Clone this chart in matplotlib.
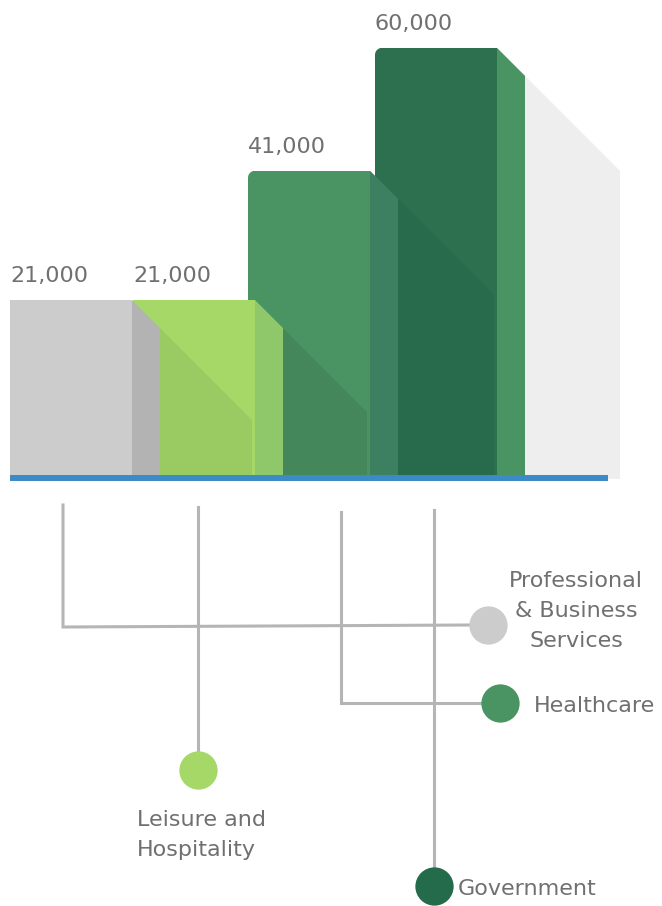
import matplotlib
matplotlib.use('Agg')
import matplotlib.pyplot as plt
from matplotlib.patches import Polygon
import numpy as np

# ============================================================
# DATA
# ============================================================
categories = ['Professional & Business Services', 'Leisure and Hospitality',
              'Healthcare', 'Government']
values = [21000, 21000, 41000, 60000]
legend_lines = [['Professional', '& Business', 'Services'],
                ['Leisure and', 'Hospitality'],
                ['Healthcare'],
                ['Government']]

# ============================================================
# STYLE / LAYOUT (pixels, 662 x 906 canvas)
# ============================================================
FIG_W, FIG_H = 662, 906
BASE_PX = 478            # pixel row of the blue baseline
BASE_VAL = -6500         # value sitting on the baseline
VAL_PER_PX = 154.6       # value units per pixel
Y_HI = BASE_VAL + BASE_PX * VAL_PER_PX
Y_LO = BASE_VAL - (FIG_H - BASE_PX) * VAL_PER_PX

BAR_LEFT = [10, 133, 248, 375]
FRONT_W = 122
SIDE_W = 28
SHADOW_END = 95          # width of grey shadow behind the last bar
ROUNDED = [False, False, True, True]
RADIUS = 7

FRONT = ['#cccccc', '#a5d867', '#4a9463', '#2c7050']
SIDE = ['#b3b3b3', '#8fc76b', '#3d7f61', '#4a9463']
CAST = [None, '#99cb62', '#43875a', '#276a4c']
DOT = ['#cccccc', '#a5d867', '#4a9463', '#236b4b']
BG_SHADOW = '#eeeeee'
BLUE = '#3b8bc6'
LINE = '#b5b5b5'
TEXT = '#707070'
FONT = 16

# connector paths / dots / text anchors in pixels
paths = [[(63, 505), (63, 627), (470, 625)],
         [(198, 507), (198, 752)],
         [(341, 512), (341, 703), (482, 703)],
         [(434, 510), (434, 868)]]
dots = [(488, 625), (198, 770), (500, 703), (434, 886)]
text_anchor = [(576, 587, 'center'), (137, 826, 'left'),
               (534, 712, 'left'), (458, 895, 'left')]
LINE_STEP = 30

fig = plt.figure(figsize=(FIG_W / 100, FIG_H / 100), dpi=100)

# bars live in value space
ax = fig.add_axes([0, 0, 1, 1])
ax.set_xlim(0, FIG_W)
ax.set_ylim(Y_LO, Y_HI)
ax.axis('off')

def dv(px):
    return px * VAL_PER_PX

n = len(values)
for i, v in enumerate(values):
    z = 20 - 3 * i
    left = BAR_LEFT[i]
    right = left + FRONT_W
    ax.bar(left, v - BASE_VAL, bottom=BASE_VAL, width=FRONT_W, align='edge',
           color=FRONT[i], linewidth=0, zorder=z)
    # rounded top-left corner: mask the square corner with background
    if ROUNDED[i]:
        t = np.linspace(0, np.pi / 2, 12)
        cx, cy = left + RADIUS, v - dv(RADIUS)
        arc = list(zip(cx - RADIUS * np.cos(t), cy + dv(RADIUS) * np.sin(t)))
        ax.add_patch(Polygon([(left - 0.5, v + dv(0.5))] + arc, closed=True,
                             facecolor='white', linewidth=0, zorder=z + 0.5))
    # side face with 45 degree chamfer
    ax.add_patch(Polygon([(right, v), (right + SIDE_W, v - dv(SIDE_W)),
                          (right + SIDE_W, BASE_VAL), (right, BASE_VAL)],
                         closed=True, facecolor=SIDE[i], linewidth=0, zorder=z + 2))
    # cast shadow onto the next bar, or onto the background for the last one
    x1 = right + SIDE_W
    y1 = v - dv(SIDE_W)
    if i < n - 1:
        x2 = BAR_LEFT[i + 1] + FRONT_W - 3
        col, zz = CAST[i + 1], z - 2
    else:
        x2 = x1 + SHADOW_END
        col, zz = BG_SHADOW, 1
    y2 = y1 - dv(x2 - x1)
    ax.add_patch(Polygon([(x1, y1), (x2, y2), (x2, BASE_VAL - dv(1)), (x1, BASE_VAL - dv(1))],
                         closed=True, facecolor=col, linewidth=0, zorder=zz))
    ax.text(left, v + dv(18), f'{v:,}', fontsize=FONT, color=TEXT,
            ha='left', va='baseline', zorder=60)

ax.hlines(BASE_VAL, 10, 608, color=BLUE, linewidth=4.3, zorder=50)

# connector tree in pixel space
ax2 = fig.add_axes([0, 0, 1, 1])
ax2.set_xlim(0, FIG_W)
ax2.set_ylim(FIG_H, 0)
ax2.axis('off')
ax2.patch.set_visible(False)

for i in range(n):
    xs, ys = zip(*paths[i])
    ax2.plot(xs, ys, color=LINE, linewidth=2.2, solid_joinstyle='miter', zorder=2)
    ax2.scatter(*dots[i], s=760, color=DOT[i], linewidths=0, zorder=3)
    tx, ty, ha = text_anchor[i]
    for k, line in enumerate(legend_lines[i]):
        ax2.text(tx, ty + k * LINE_STEP, line, fontsize=FONT, color=TEXT,
                 ha=ha, va='baseline')

fig.savefig('out.png', dpi=100)
